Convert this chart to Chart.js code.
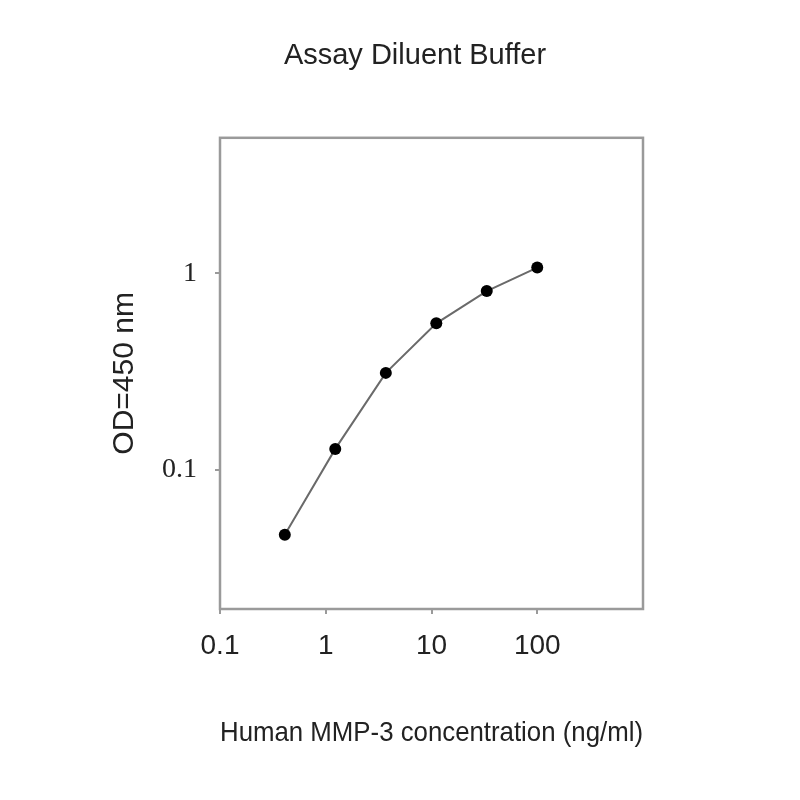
<!DOCTYPE html>
<html>
<head>
<meta charset="utf-8">
<script src="https://cdn.jsdelivr.net/npm/chart.js@4.4.1/dist/chart.umd.min.js"></script>
<style>
  html, body { margin: 0; padding: 0; background: #fff; }
  #wrap { width: 800px; height: 800px; }
</style>
</head>
<body>
<div id="wrap"><canvas id="chart"></canvas></div>
<script>
// concentration (ng/ml) vs OD at 450 nm
const concentrations = [0.41, 1.23, 3.7, 11.1, 33.3, 100];
const odValues       = [0.0466, 0.1275, 0.311, 0.556, 0.812, 1.069];

const xTickValues = [0.1, 1, 10, 100];
const xTickLabels = ['0.1', '1', '10', '100'];
const yTickValues = [0.1, 1];
const yTickLabels = ['0.1', '1'];

const FRAME = '#9a9a9a';
const INK   = '#222';

// box round the plot area
const frame = {
  id: 'frame',
  afterDatasetsDraw(chart) {
    const { ctx, chartArea: a } = chart;
    ctx.save();
    ctx.strokeStyle = FRAME;
    ctx.lineWidth = 2.5;
    ctx.strokeRect(a.left, a.top, a.right - a.left, a.bottom - a.top);
    ctx.restore();
  },
};

const points = concentrations.map((c, i) => ({ x: c, y: odValues[i] }));

new Chart(document.getElementById('chart'), {
  type: 'scatter',
  data: {
    datasets: [{
      data: points,
      showLine: true,
      borderColor: '#6a6a6a',
      borderWidth: 2,
      pointBackgroundColor: '#000',
      pointBorderColor: '#000',
      pointRadius: 6,
      pointBorderWidth: 0,
    }],
  },
  options: {
    responsive: true,
    maintainAspectRatio: false,
    animation: false,
    layout: { padding: { left: 30, right: 0, top: 0, bottom: 0 } },
    plugins: {
      legend: { display: false },
      tooltip: { enabled: false },
      title: {
        display: true,
        text: 'Assay Diluent Buffer',
        color: INK,
        font: { family: "'Liberation Sans', Arial, sans-serif", size: 29, weight: 'normal' },
        padding: { top: 39, bottom: 64 },
      },
    },
    scales: {
      x: {
        type: 'logarithmic',
        min: 0.1,
        max: 1000,
        afterFit: s => { s.height = 191; },
        afterBuildTicks: s => { s.ticks = xTickValues.map(v => ({ value: v })); },
        grid: { drawOnChartArea: false, drawTicks: true, tickLength: 5, color: FRAME, lineWidth: 2 },
        border: { display: false },
        ticks: {
          autoSkip: false,
          maxRotation: 0,
          padding: 15,
          color: INK,
          font: { family: "'Liberation Sans', Arial, sans-serif", size: 28 },
          callback: (v, i) => xTickLabels[i],
        },
        title: {
          display: true,
          text: 'Human MMP-3 concentration (ng/ml)',
          color: INK,
          font: { family: "'Liberation Sans', Arial, sans-serif", size: 28 },
          padding: { top: 0, bottom: 50 },
        },
      },
      y: {
        type: 'logarithmic',
        min: 0.0195,
        max: 4.9,
        afterFit: s => { s.width = 190; },
        afterBuildTicks: s => { s.ticks = yTickValues.map(v => ({ value: v })); },
        grid: { drawOnChartArea: false, drawTicks: true, tickLength: 5, color: FRAME, lineWidth: 2 },
        border: { display: false },
        ticks: {
          autoSkip: false,
          padding: 18,
          color: INK,
          font: { family: "'Liberation Serif', 'Times New Roman', serif", size: 28 },
          callback: (v, i) => yTickLabels[i],
        },
        title: {
          display: true,
          text: 'OD=450 nm',
          color: INK,
          font: { family: "'Liberation Sans', Arial, sans-serif", size: 30 },
          padding: { top: 77, bottom: 0 },
        },
      },
      // empty right-hand strip, keeps the plot box where the reference has it
      y2: {
        position: 'right',
        display: true,
        afterFit: s => { s.width = 157; },
        grid: { display: false },
        border: { display: false },
        ticks: { display: false },
      },
    },
  },
  plugins: [frame],
});
</script>
</body>
</html>
